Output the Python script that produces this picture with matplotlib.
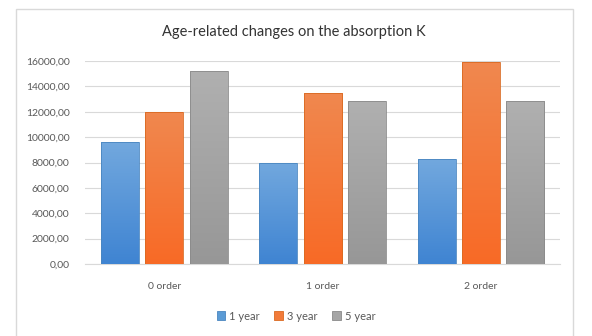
import matplotlib
matplotlib.use("Agg")
import matplotlib.pyplot as plt
from matplotlib.patches import Rectangle
from matplotlib.colors import LinearSegmentedColormap
import numpy as np

categories = ["0 order", "1 order", "2 order"]
series_names = ["1 year", "3 year", "5 year"]
year1 = [9600, 8000, 8250]
year3 = [12000, 13500, 15900]
year5 = [15200, 12850, 12870]
yticks = [0, 2000, 4000, 6000, 8000, 10000, 12000, 14000, 16000]
title = "Age-related changes on the absorption K"

colors = ["#5B9BD5", "#F27B3A", "#A5A5A5"]
tops = ["#72a8de", "#f0884f", "#b0b0b0"]
bottoms = ["#3f84d2", "#f86a26", "#979797"]
edges = ["#4a86c0", "#d96a22", "#8a8a8a"]

W, H = 592, 336
plt.rcParams["font.family"] = ["Lato", "DejaVu Sans"]
fig = plt.figure(figsize=(W / 100, H / 100), dpi=100)
fig.patch.set_facecolor("white")

# chart frame
fig.add_artist(Rectangle((16 / W, -0.05), (573 - 16) / W, 1.05 - 9 / H,
                         transform=fig.transFigure, fill=False,
                         edgecolor="#d9d9d9", linewidth=1.0))

ax = fig.add_axes([85 / W, 1 - 264 / H, (560 - 85) / W, (264 - 61) / H])
x = np.arange(len(categories))
bw = 0.24
step = 0.28
ax.set_xlim(-0.5, 2.5)
ax.set_ylim(0, 16000)
grad = np.linspace(1, 0, 256).reshape(-1, 1)
for i, vals in enumerate([year1, year3, year5]):
    bars = ax.bar(x + (i - 1) * step, vals, width=bw, color=colors[i],
                  edgecolor=edges[i], linewidth=0.6, label=series_names[i],
                  zorder=3)
    cmap = LinearSegmentedColormap.from_list(f"g{i}", [bottoms[i], tops[i]])
    for b in bars:
        x0, y0 = b.get_x(), b.get_y()
        im = ax.imshow(grad, cmap=cmap, aspect="auto", zorder=3.5,
                       extent=[x0, x0 + b.get_width(), y0, y0 + b.get_height()])
        im.set_clip_path(b)
        b.set_facecolor("none")
        b.set_zorder(4)
ax.set_xlim(-0.5, 2.5)
ax.set_ylim(0, 16000)

ax.set_yticks(yticks)
ax.set_yticklabels([f"{v:.2f}".replace(".", ",") for v in yticks])
ax.set_xticks(x)
ax.set_xticklabels(categories)
ax.grid(axis="y", color="#d9d9d9", linewidth=0.8, zorder=0)
for s in ["top", "right", "left"]:
    ax.spines[s].set_visible(False)
ax.spines["bottom"].set_color("#d9d9d9")
ax.tick_params(axis="both", length=0, labelsize=7.5, colors="#595959")
ax.tick_params(axis="y", pad=11)
ax.tick_params(axis="x", pad=13)

fig.text(294 / W, 1 - 32 / H, title, ha="center", va="center",
         fontsize=10.5, color="#333333")

handles = [Rectangle((0, 0), 1, 1, facecolor=colors[i], edgecolor=edges[i],
                     linewidth=0.6) for i in range(3)]
fig.legend(handles, series_names, loc="center",
           bbox_to_anchor=(296 / W, 1 - 316 / H),
           ncol=3, frameon=False, fontsize=8, handlelength=0.8,
           handleheight=0.8, handletextpad=0.35, columnspacing=1.3,
           labelcolor="#595959")

fig.savefig("out.png", dpi=100, facecolor="white")
